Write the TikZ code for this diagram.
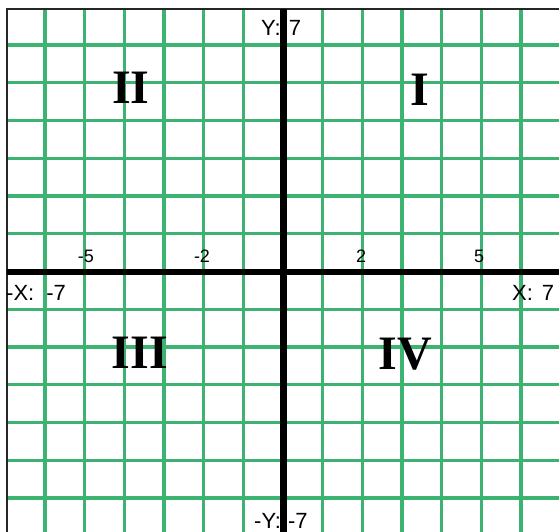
\documentclass[tikz,border=0pt]{standalone}
\usepackage{fontspec}
\setmainfont{Liberation Serif}
\newfontfamily\labfont{Liberation Sans}
\definecolor{gridgreen}{RGB}{60,179,113}
\begin{document}
\begin{tikzpicture}[x=1pt,y=-1pt,
  gridline/.style={draw=gridgreen, line width=3.2pt},
  axisline/.style={draw=black, line width=6.5pt},
  borderline/.style={draw=black!85, line width=1.6pt},
  quad/.style={font=\fontsize{48}{48}\selectfont\bfseries, text=black, inner sep=0pt},
  ticklab/.style={font=\labfont\fontsize{18}{18}\selectfont, inner sep=0pt, anchor=base},
  axislab/.style={font=\labfont\fontsize{22}{22}\selectfont, inner sep=0pt, anchor=base west},
]
\useasboundingbox (0,0) rectangle (559,532);
\fill[white] (0,0) rectangle (559,532);
% grid
\foreach \i in {-6,...,6} {\draw[gridline] ({283+39.67*\i},9) -- ({283+39.67*\i},532);}
\foreach \j in {-6,...,6} {\draw[gridline] (7,{271.5+37.75*\j}) -- (559,{271.5+37.75*\j});}
% border
\coordinate (tl) at (7,9);
\coordinate (tr) at (559,9);
\coordinate (bl) at (7,532);
\draw[borderline] (tr) -- (tl) -- (bl);
% quadrant labels
\node[quad] (q2) at (131,88) {II};
\node[quad] (q1) at (420,90) {I};
\node[quad] (q3) at (140,353) {III};
\node[quad] (q4) at (405,354) {IV};
% tick labels
\node[ticklab] (tm5) at (86,262) {-5};
\node[ticklab] (tm2) at (202,262) {-2};
\node[ticklab] (tp2) at (361,262) {2};
\node[ticklab] (tp5) at (479,262) {5};
% axis labels
\node[axislab] (xneg) at (6,300) {-X:\hspace{12pt}-7};
\node[axislab] (xpos) at (512,300) {X:\hspace{9pt}7};
\node[axislab] (ypos) at (261,36) {Y:\hspace{8pt}7};
\node[axislab] (yneg) at (254,528) {-Y:\hspace{7pt}-7};
% axes
\coordinate (xl) at (7,272);
\coordinate (xr) at (559,272);
\coordinate (yt) at (283.5,9);
\coordinate (yb) at (283.5,532);
\draw[axisline] (xl) -- (xr);
\draw[axisline] (yt) -- (yb);
\end{tikzpicture}
\end{document}
